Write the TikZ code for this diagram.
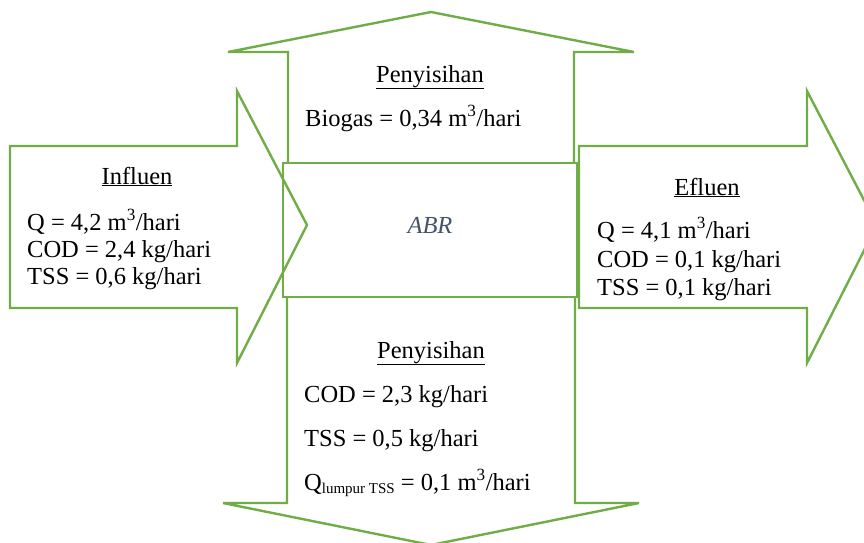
\documentclass[tikz,border=0pt]{standalone}
\usepackage{fontspec}
\setmainfont{Liberation Serif}
\definecolor{arrowgreen}{HTML}{70AD47}
\definecolor{abrgray}{HTML}{44546A}
\begin{document}
\begin{tikzpicture}[x=1pt,y=-1pt,
  shapeline/.style={draw=arrowgreen, line width=2.4pt, line join=miter},
  txt/.style={anchor=base west, inner sep=0pt, font=\fontsize{24.5}{27}\selectfont},
  ttl/.style={anchor=base, inner sep=0pt, font=\fontsize{24.5}{27}\selectfont}]
\useasboundingbox (0,0) rectangle (864,543);
\clip (0,0) rectangle (864,543);
% up arrow
\draw[shapeline, fill=white] (288,163) -- (288,52) -- (228,52) -- (431,12) -- (634,52) -- (574,52) -- (574,163);
% down arrow
\draw[shapeline, fill=white] (287,297) -- (287,503) -- (223,503) -- (431,545) -- (639,503) -- (575,503) -- (575,297);
% ABR box
\draw[shapeline, fill=white] (283,163) rectangle (577,297);
% influen arrow
\draw[shapeline] (10,146) -- (237,146) -- (237,91) -- (307,225) -- (237,363) -- (237,308) -- (10,308) -- cycle;
% efluen arrow
\draw[shapeline] (579,146) -- (807,146) -- (807,91) -- (877,225) -- (807,363) -- (807,308) -- (579,308) -- cycle;

% texts
\node[ttl] (intitle) at (137,184) {\underline{Influen}};
\node[txt] (inq) at (27,230) {Q = 4,2 m\textsuperscript{3}/hari};
\node[txt] (incod) at (27,257) {COD = 2,4 kg/hari};
\node[txt] (intss) at (27,284) {TSS = 0,6 kg/hari};

\node[ttl] (uptitle) at (430,82) {\underline{Penyisihan}};
\node[txt] (biogas) at (305,126) {Biogas = 0,34 m\textsuperscript{3}/hari};

\node[anchor=center, inner sep=0pt, font=\fontsize{24.5}{27}\selectfont\itshape, text=abrgray] (abr) at (430,225) {ABR};

\node[ttl] (eftitle) at (707,195) {\underline{Efluen}};
\node[txt] (efq) at (597,238) {Q = 4,1 m\textsuperscript{3}/hari};
\node[txt] (efcod) at (597,267) {COD = 0,1 kg/hari};
\node[txt] (eftss) at (597,295) {TSS = 0,1 kg/hari};

\node[ttl] (dntitle) at (431,358) {\underline{Penyisihan}};
\node[txt] (dncod) at (304,402) {COD = 2,3 kg/hari};
\node[txt] (dntss) at (304,446) {TSS = 0,5 kg/hari};
\node[txt] (dnq) at (304,490) {Q\raisebox{-0.3ex}{\fontsize{15}{15}\selectfont lumpur TSS} = 0,1 m\textsuperscript{3}/hari};
\end{tikzpicture}
\end{document}
